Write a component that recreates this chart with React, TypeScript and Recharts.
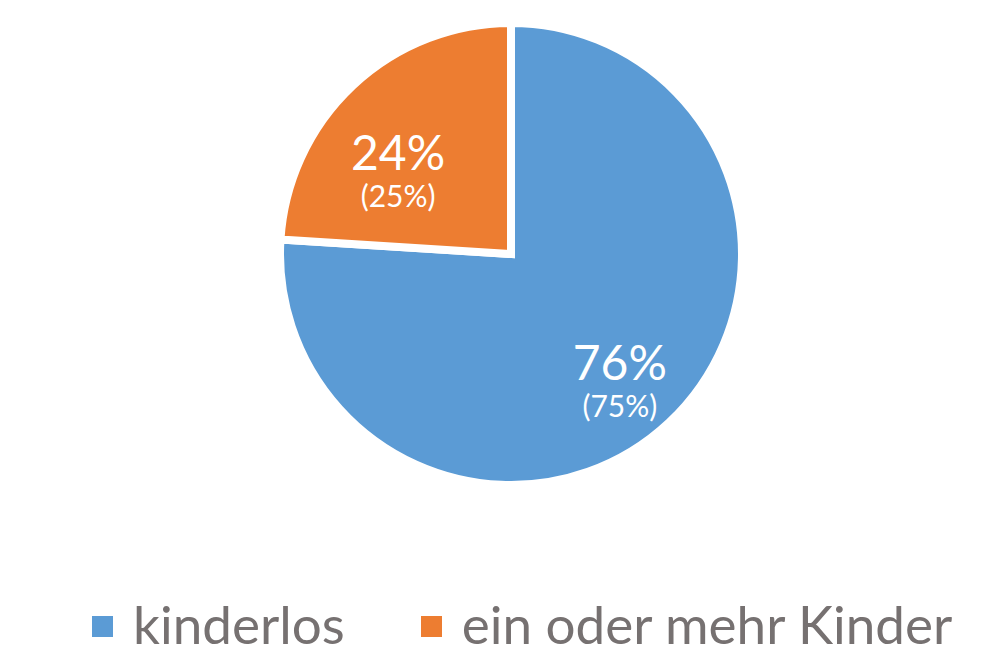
import { PieChart, Pie, Cell, Legend } from 'recharts';

const categories = ['kinderlos', 'ein oder mehr Kinder'];
const shares = [76, 24];
const altShares = ['(75%)', '(25%)'];
const colors = ['#5B9BD5', '#ED7D31'];

// label placement tweaks (radius factor, px shift)
const labelRadius = [0.72, 0.6];
const labelShift = [
  [-5, 5],
  [-18, 17],
];

const data = categories.map((name, i) => ({
  name,
  value: shares[i],
  alt: altShares[i],
}));

const FONT = 'Lato, "Open Sans", sans-serif';
const RAD = Math.PI / 180;

function SliceLabel(props: any) {
  const { cx, cy, midAngle, outerRadius, index, value } = props;
  const r = outerRadius * labelRadius[index];
  const x = cx + r * Math.cos(-midAngle * RAD) + labelShift[index][0];
  const y = cy + r * Math.sin(-midAngle * RAD) + labelShift[index][1];
  return (
    <g>
      <text x={x} y={y} fill="#fff" textAnchor="middle" fontFamily={FONT} fontSize={48}>
        {`${value}%`}
      </text>
      <text x={x} y={y + 37} fill="#fff" textAnchor="middle" fontFamily={FONT} fontSize={30}>
        {data[index].alt}
      </text>
    </g>
  );
}

function LegendContent() {
  return (
    <div
      style={{
        display: 'flex',
        alignItems: 'center',
        flexWrap: 'nowrap',
        whiteSpace: 'nowrap',
        paddingLeft: 92,
        fontFamily: FONT,
        fontSize: 53,
        color: '#767171',
        lineHeight: '60px',
      }}
    >
      {categories.map((c, i) => (
        <div
          key={c}
          style={{ display: 'flex', alignItems: 'center', flexShrink: 0, marginRight: i === 0 ? 76 : 0 }}
        >
          <span
            style={{
              display: 'inline-block',
              width: 21,
              height: 21,
              background: colors[i],
              marginRight: 20,
              marginTop: 4,
            }}
          />
          <span>{c}</span>
        </div>
      ))}
    </div>
  );
}

export default function App() {
  return (
    <div style={{ position: 'absolute', left: 0, top: 0, background: '#fff' }}>
      <PieChart width={997} height={658} margin={{ top: 0, right: 0, bottom: 0, left: 0 }}>
        <Pie
          data={data}
          dataKey="value"
          nameKey="name"
          cx={511}
          cy={254}
          outerRadius={231}
          startAngle={90}
          endAngle={-270}
          stroke="#fff"
          strokeWidth={8}
          label={SliceLabel}
          labelLine={false}
          isAnimationActive={false}
        >
          {data.map((d, i) => (
            <Cell key={d.name} fill={colors[i]} />
          ))}
        </Pie>
        <Legend
          content={<LegendContent />}
          wrapperStyle={{ left: 0, top: 594, width: 997, height: 60 }}
        />
      </PieChart>
    </div>
  );
}
